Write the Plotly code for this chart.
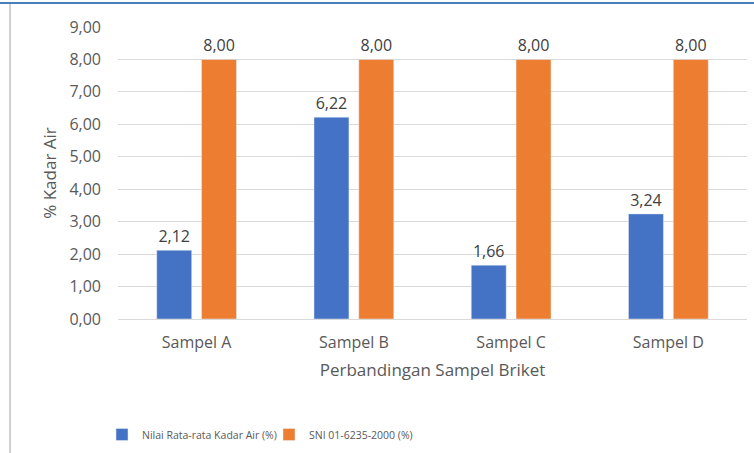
import plotly.graph_objects as go

# Moisture content of briquette samples vs. the SNI standard limit
categories = ["Sampel A", "Sampel B", "Sampel C", "Sampel D"]
kadar_air = [2.12, 6.22, 1.66, 3.24]
sni_limit = [8.00, 8.00, 8.00, 8.00]
y_ticks = [0, 1, 2, 3, 4, 5, 6, 7, 8, 9]

W, H = 754, 453
L, R, T, B = 118, 7, 27, 134
PW, PH = W - L - R, H - T - B


def px(x):
    return (x - L) / PW


def py(y):
    return (H - B - y) / PH


FONT = "Open Sans"
GREY = "#595959"

fig = go.Figure()
fig.add_trace(go.Bar(
    x=categories, y=kadar_air, name="Nilai Rata-rata Kadar Air (%)",
    marker_color="#4472C4",
    texttemplate="%{y:.2f}", textposition="outside",
    textfont=dict(color="#404040", size=16, family=FONT),
    cliponaxis=False,
))
fig.add_trace(go.Bar(
    x=categories, y=sni_limit, name="SNI 01-6235-2000 (%)",
    marker_color="#ED7D31",
    texttemplate="%{y:.2f}", textposition="outside",
    textfont=dict(color="#404040", size=16, family=FONT),
    cliponaxis=False,
))

fig.update_layout(
    width=W, height=H,
    margin=dict(l=L, r=R, t=T, b=B, pad=0, autoexpand=False),
    paper_bgcolor="white", plot_bgcolor="white",
    separators=",.",
    barmode="group", bargap=0.43, bargroupgap=0.22,
    font=dict(family=FONT, color=GREY, size=13),
    xaxis=dict(
        automargin=False,
        showgrid=False, showline=False, ticks="", ticklabelstandoff=12,
        tickfont=dict(size=16, color=GREY),
        title=dict(text="Perbandingan Sampel Briket", font=dict(size=17, color=GREY), standoff=12),
    ),
    yaxis=dict(
        automargin=False,
        range=[0, 9], tickvals=y_ticks, tickformat=".2f",
        showgrid=True, gridcolor="#D9D9D9", gridwidth=1,
        zeroline=True, zerolinecolor="#D9D9D9", zerolinewidth=1,
        showline=False, ticks="", ticklabelstandoff=16,
        tickfont=dict(size=16, color=GREY),
        title=dict(text="% Kadar Air", font=dict(size=17, color=GREY), standoff=8),
    ),
    showlegend=True,
    legend=dict(
        orientation="h", x=px(102), y=py(420), xanchor="left", yanchor="top",
        font=dict(size=10.5, color=GREY), itemwidth=30, traceorder="normal",
        entrywidth=122, entrywidthmode="pixels",
    ),
    shapes=[
        dict(type="line", xref="paper", yref="paper",
             x0=px(0), x1=px(W), y0=py(3), y1=py(3),
             line=dict(color="#4A7EBB", width=2)),
        dict(type="line", xref="paper", yref="paper",
             x0=px(10), x1=px(10), y0=py(4), y1=py(H),
             line=dict(color="#D0D0D0", width=2)),
    ],
)

fig.write_html("out.html")
